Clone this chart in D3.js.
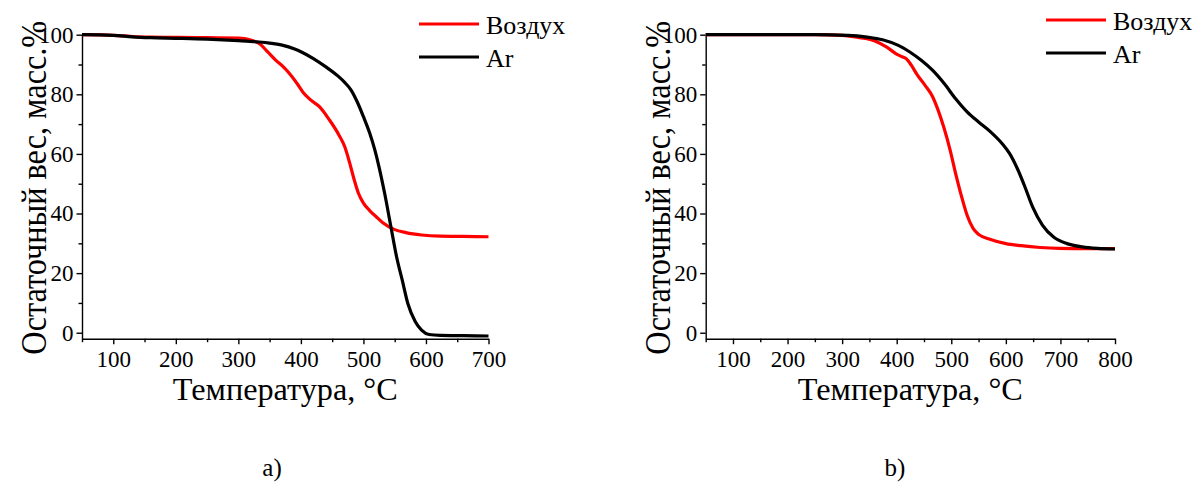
<!DOCTYPE html>
<html>
<head>
  <meta charset="utf-8">
  <title>TGA</title>
  <script src="https://d3js.org/d3.v7.min.js"></script>
  <style>
    body { margin: 0; background: #fff; }
    svg { display: block; font-family: "Liberation Serif", "Times New Roman", serif; }
    .tick text { font-family: "Liberation Serif", "Times New Roman", serif; font-size: 23px; }
  </style>
</head>
<body>
<script>
  // panel a) — temperature, °C / residual weight, %
  const airA = [[50,100],[100,99.8],[130,99.4],[160,99.2],[200,99.1],[250,99],[300,98.9],[320,98.2],[335,96.8],[347,94.2],[360,91.4],[372,89.2],[384,86.4],[395,83.3],[403,80.8],[415,78.2],[430,75.8],[446,71.3],[461,66.3],[470,62.5],[478,57],[485,51.5],[492,46.8],[500,43.5],[510,41],[520,39],[531,36.9],[550,34.6],[568,33.6],[593,32.8],[623,32.4],[660,32.3],[700,32.2]];
  const arA = [[50,100],[100,99.8],[130,99.3],[160,99],[200,98.8],[250,98.5],[300,98],[330,97.6],[350,97.2],[370,96.5],[390,95.2],[400,94.3],[420,92],[440,89.2],[460,86],[470,84],[480,81.5],[490,77.5],[500,72.5],[510,67],[518,61.5],[525,55.6],[534,46.7],[544,35.5],[553,25.5],[562,17.7],[571,9.8],[583,3.7],[593,0.9],[605,-0.6],[623,-0.9],[660,-1],[700,-1.1]];

  // panel b)
  const airB = [[50,100],[150,100],[250,100],[300,99.8],[332,99],[360,97.9],[381,95.9],[399,93.6],[410,92.6],[417,92],[427,89.7],[438,86.4],[452,83],[466,79.1],[476,74.6],[487,68.5],[498,61.2],[508,53.4],[519,45.6],[529,39.4],[540,35],[550,33],[572,31.3],[600,29.9],[628,29.2],[663,28.6],[698,28.3],[750,28.2],[800,28.2]];
  const arB = [[50,100],[150,100],[250,100],[311,99.8],[346,99.2],[374,98.3],[403,96.4],[424,94.2],[445,91.4],[466,88],[487,83.6],[508,78.5],[529,74.1],[550,70.7],[572,67.4],[593,63.5],[607,60.1],[621,55.1],[635,48.9],[649,42.2],[667,36.1],[688,32],[712,29.9],[740,28.8],[768,28.3],[800,28.1]];

  const seriesNames = ["Воздух", "Ar"];
  const seriesColors = ["#ff0000", "#000000"];
  const xTitle = "Температура, °C";
  const yTitle = "Остаточный вес, масс.%";
  const yTicks = [0, 20, 40, 60, 80, 100];
  const yMinor = [10, 30, 50, 70, 90];

  const panels = [
    { caption: "a)", series: [airA, arA], xMax: 700, x0: 82, x1: 488.5, capX: 272, legX: 419, legY: 24 },
    { caption: "b)", series: [airB, arB], xMax: 800, x0: 705.7, x1: 1115, capX: 895, legX: 1046, legY: 20 }
  ];

  const W = 1196, H = 484;
  const plotTop = 34.7, plotBottom = 338.7;

  const svg = d3.select("body").append("svg")
    .attr("width", W)
    .attr("height", H);

  panels.forEach(function(p) {
    const g = svg.append("g");

    const x = d3.scaleLinear().domain([50, p.xMax]).range([p.x0, p.x1]);
    const y = d3.scaleLinear().domain([-2, 100]).range([plotBottom, plotTop]);

    const xMajor = d3.range(100, p.xMax + 1, 100);
    const xMinor = d3.range(50, p.xMax, 100);

    // minor ticks
    g.append("g")
      .attr("transform", `translate(0,${plotBottom})`)
      .call(d3.axisBottom(x).tickValues(xMinor).tickSize(3.5).tickFormat(""))
      .call(a => a.select(".domain").remove())
      .call(a => a.selectAll("text").remove());
    g.append("g")
      .attr("transform", `translate(${p.x0},0)`)
      .call(d3.axisLeft(y).tickValues(yMinor).tickSize(3.5).tickFormat(""))
      .call(a => a.select(".domain").remove())
      .call(a => a.selectAll("text").remove());

    // major axes
    const xg = g.append("g")
      .attr("transform", `translate(0,${plotBottom})`)
      .call(d3.axisBottom(x).tickValues(xMajor).tickSize(5.5).tickPadding(6).tickSizeOuter(0));
    const yg = g.append("g")
      .attr("transform", `translate(${p.x0},0)`)
      .call(d3.axisLeft(y).tickValues(yTicks).tickSize(5.5).tickPadding(3).tickSizeOuter(0));
    [xg, yg].forEach(a => a.attr("font-family", null).attr("font-size", null));

    g.selectAll(".domain, .tick line").attr("stroke", "#000").attr("stroke-width", 1.4);
    g.selectAll(".tick text").attr("fill", "#000");

    // curves
    const line = d3.line()
      .x(d => x(d[0]))
      .y(d => y(d[1]))
      .curve(d3.curveMonotoneX);

    p.series.forEach(function(s, i) {
      g.append("path")
        .datum(s)
        .attr("fill", "none")
        .attr("stroke", seriesColors[i])
        .attr("stroke-width", 3.2)
        .attr("stroke-linejoin", "round")
        .attr("d", line);
    });

    // titles
    g.append("text")
      .attr("x", (p.x0 + p.x1) / 2)
      .attr("y", 400)
      .attr("text-anchor", "middle")
      .attr("font-size", 32)
      .attr("textLength", 225)
      .attr("lengthAdjust", "spacingAndGlyphs")
      .text(xTitle);

    // y title: bigger glyphs squeezed along the text to fit the axis height
    const yt = g.append("text")
      .attr("text-anchor", "middle")
      .attr("font-size", 35)
      .text(yTitle);
    const k = 334 / yt.node().getComputedTextLength();
    yt.attr("transform", `translate(${p.x0 - 36},${(plotTop + plotBottom) / 2 + 1}) rotate(-90) scale(${k},1)`);

    g.append("text")
      .attr("x", p.capX)
      .attr("y", 476)
      .attr("text-anchor", "middle")
      .attr("font-size", 25)
      .text(p.caption);

    // legend
    const leg = g.append("g").attr("transform", `translate(${p.legX},${p.legY})`);
    seriesNames.forEach(function(n, i) {
      leg.append("line")
        .attr("x1", 0).attr("x2", 60)
        .attr("y1", i * 33).attr("y2", i * 33)
        .attr("stroke", seriesColors[i])
        .attr("stroke-width", 3.2);
      leg.append("text")
        .attr("x", 67)
        .attr("y", i * 33 + 9.5)
        .attr("font-size", 26)
        .text(n);
    });
  });
</script>
</body>
</html>
